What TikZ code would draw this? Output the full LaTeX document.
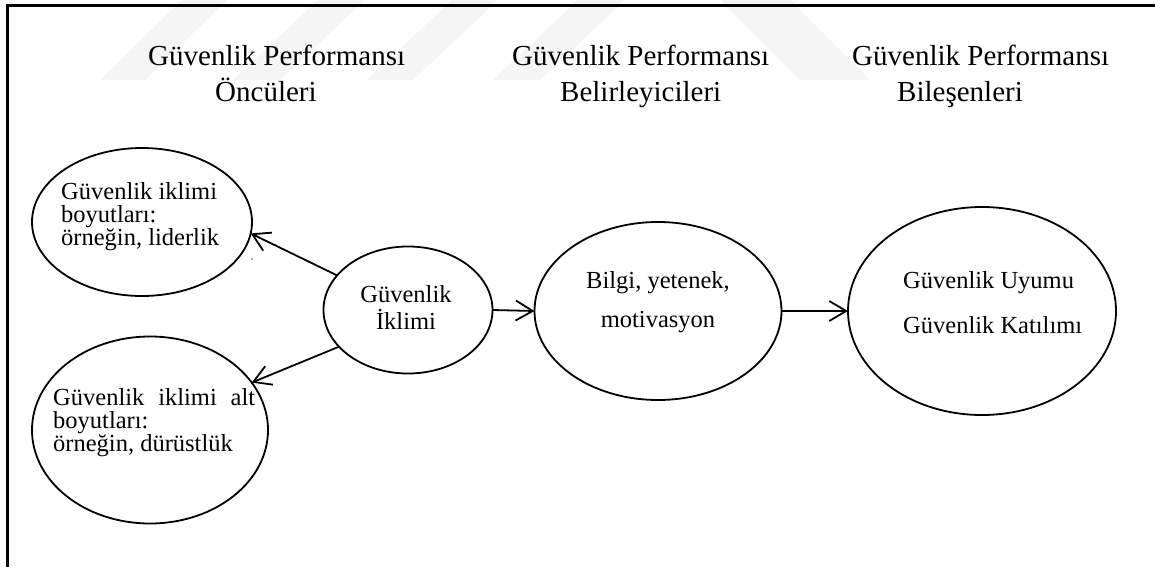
\documentclass[tikz,border=0pt]{standalone}
\usepackage{fontspec}
\setmainfont{Liberation Serif}
\usetikzlibrary{arrows.meta,shapes.geometric}
\begin{document}
\begin{tikzpicture}[x=1pt,y=-1pt,
  oval/.style={draw,ellipse,line width=1.8pt,inner sep=0pt,outer sep=0pt},
  arr/.style={line width=1.8pt,-{Straight Barb[length=17pt,width=20pt]}},
  ttl/.style={anchor=base west,inner sep=0pt,font=\fontsize{29}{29}\selectfont},
  txtw/.style={anchor=base west,inner sep=0pt,font=\fontsize{24.5}{24.5}\selectfont},
  txtc/.style={anchor=base,inner sep=0pt,font=\fontsize{24.5}{24.5}\selectfont},
  wm/.style={fill=black!4,draw=none}]
\useasboundingbox (0,0) rectangle (1155,567);
% faint watermark
\fill[wm] (100,80) -- (145,80) -- (227,0) -- (182,0) -- cycle;
\fill[wm] (233,80) -- (280,80) -- (365,0) -- (318,0) -- cycle;
\fill[wm] (367,80) -- (413,80) -- (498,0) -- (452,0) -- cycle;
\fill[wm] (493,80) -- (540,80) -- (625,0) -- (578,0) -- cycle;
\fill[wm] (720,0) -- (790,0) -- (870,80) -- (800,80) -- cycle;
% frame
\draw[line width=2.2pt] (1155,5.5) -- (7.5,5.5) -- (7.5,567);
% titles
\node[ttl] (t1a) at (148,66) {Güvenlik Performansı};
\node[ttl] (t1b) at (215,102) {Öncüleri};
\node[ttl] (t2a) at (512,66) {Güvenlik Performansı};
\node[ttl] (t2b) at (560,102) {Belirleyicileri};
\node[ttl] (t3a) at (852,66) {Güvenlik Performansı};
\node[ttl] (t3b) at (897,102) {Bileşenleri};
% ellipses
\node[oval,minimum width=220pt,minimum height=148pt] (e1) at (142,222) {};
\node[oval,minimum width=236pt,minimum height=187pt] (e2) at (150,430) {};
\node[oval,minimum width=169pt,minimum height=127pt] (e3) at (408,310) {};
\node[oval,minimum width=247pt,minimum height=178pt] (e4) at (658,311) {};
\node[oval,minimum width=268pt,minimum height=208pt] (e5) at (982,311) {};
% ellipse texts
\node[txtw] (e1a) at (61,199) {Güvenlik iklimi};
\node[txtw] (e1b) at (61,222) {boyutları:};
\node[txtw] (e1c) at (61,245) {örneğin, liderlik};
\node[txtw] (e2a) at (53,405) {\hbox to 202pt{Güvenlik\hfil iklimi\hfil alt}};
\node[txtw] (e2b) at (53,428) {boyutları:};
\node[txtw] (e2c) at (53,451) {örneğin, dürüstlük};
\node[txtc] (e3a) at (406,302) {Güvenlik};
\node[txtc] (e3b) at (406,329) {İklimi};
\node[txtc] (e4a) at (658,288) {Bilgi, yetenek,};
\node[txtc] (e4b) at (658,327) {motivasyon};
\node[txtw] (e5a) at (903,288) {Güvenlik Uyumu};
\node[txtw] (e5b) at (903,333) {Güvenlik Katılımı};
% connectors
\draw[arr] (e3.154) -- (e1.-6);
\draw[arr] (e3.208) -- (e2.25);
\draw[arr] (e3.east) -- (e4.west);
\draw[arr] (e4.east) -- (e5.west);
% stray dot
\fill[black!55] (252,259) circle (1pt);
\end{tikzpicture}
\end{document}
